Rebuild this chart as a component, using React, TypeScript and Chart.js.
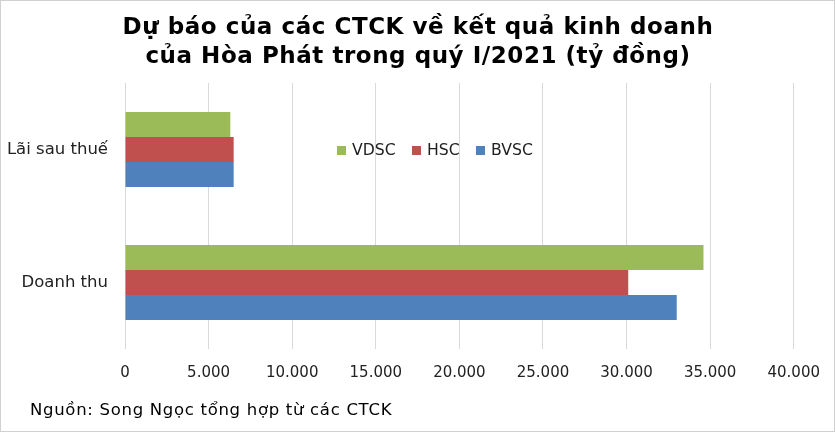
import React, { useEffect, useRef } from "react";
import { Chart, registerables } from "chart.js";

Chart.register(...registerables);

const categories = ["Lãi sau thuế", "Doanh thu"];
const seriesNames = ["VDSC", "HSC", "BVSC"];
const vdsc = [6300, 34600];
const hsc = [6500, 30100];
const bvsc = [6500, 33000];
const colors = ["#9bbb59", "#c0504d", "#4f81bd"];
const titleLines = ["Dự báo của các CTCK về kết quả kinh doanh", "của Hòa Phát trong quý I/2021 (tỷ đồng)"];
const footerText = "Nguồn: Song Ngọc tổng hợp từ các CTCK";

const FONT = "'DejaVu Sans', Verdana, sans-serif";

const fmt = (v: number) => v.toLocaleString("de-DE");

export default function App() {
  const ref = useRef<HTMLCanvasElement | null>(null);
  useEffect(() => {
    if (!ref.current) return;
    const textPlugin = {
      id: "texts",
      afterDraw(chart: any) {
        const ctx = chart.ctx as any;
        ctx.save();
        ctx.strokeStyle = "#d0d0d0";
        ctx.lineWidth = 1;
        ctx.strokeRect(0.5, 0.5, chart.width - 1, chart.height - 1);
        ctx.fillStyle = "#000";
        ctx.textAlign = "center";
        ctx.textBaseline = "middle";
        ctx.font = "bold 23px 'DejaVu Sans', sans-serif";
        ctx.letterSpacing = "0.55px";
        ctx.fillText(titleLines[0], 418, 28);
        ctx.fillText(titleLines[1], 418, 57);
        ctx.textAlign = "left";
        ctx.font = "16.5px " + FONT;
        ctx.letterSpacing = "0.7px";
        ctx.fillText(footerText, 30, 411);
        ctx.letterSpacing = "0px";
        ctx.font = "15.7px " + FONT;
        const xs = [337, 412, 476];
        seriesNames.forEach((n, i) => {
          ctx.fillStyle = colors[i];
          ctx.fillRect(xs[i], 146, 9, 9);
          ctx.fillStyle = "#222";
          ctx.fillText(n, xs[i] + 15, 151);
        });
        ctx.restore();
      },
    };
    const chart = new Chart(ref.current, {
      type: "bar",
      data: {
        labels: categories,
        datasets: [
          { label: seriesNames[0], data: vdsc, backgroundColor: colors[0] },
          { label: seriesNames[1], data: hsc, backgroundColor: colors[1] },
          { label: seriesNames[2], data: bvsc, backgroundColor: colors[2] },
        ],
      },
      options: {
        indexAxis: "y",
        animation: false,
        responsive: false,
        maintainAspectRatio: false,
        layout: { padding: { top: 83, bottom: 43, left: 0, right: 40 } },
        datasets: { bar: { barPercentage: 1, categoryPercentage: 0.565 } },
        plugins: { legend: { display: false }, title: { display: false }, tooltip: { enabled: false } },
        scales: {
          x: {
            min: 0,
            max: 40000,
            ticks: { stepSize: 5000, callback: (v: any) => fmt(Number(v)), color: "#222", font: { family: FONT, size: 15 }, padding: 15 },
            grid: { color: "#d9d9d9", drawTicks: false },
            border: { display: false },
            afterFit: (s: any) => { s.height = 40; },
          },
          y: {
            ticks: { color: "#222", font: { family: FONT, size: 16.5 }, padding: 17 },
            grid: { display: false, drawTicks: false },
            border: { display: false },
            afterFit: (s: any) => { s.width = 125; },
          },
        },
      },
      plugins: [textPlugin],
    } as any);
    return () => chart.destroy();
  }, []);
  return (
    <div style={{ position: "fixed", left: 0, top: 0, width: 835, height: 432, background: "#fff" }}>
      <canvas ref={ref} width={835} height={432} style={{ width: 835, height: 432 }} />
    </div>
  );
}
